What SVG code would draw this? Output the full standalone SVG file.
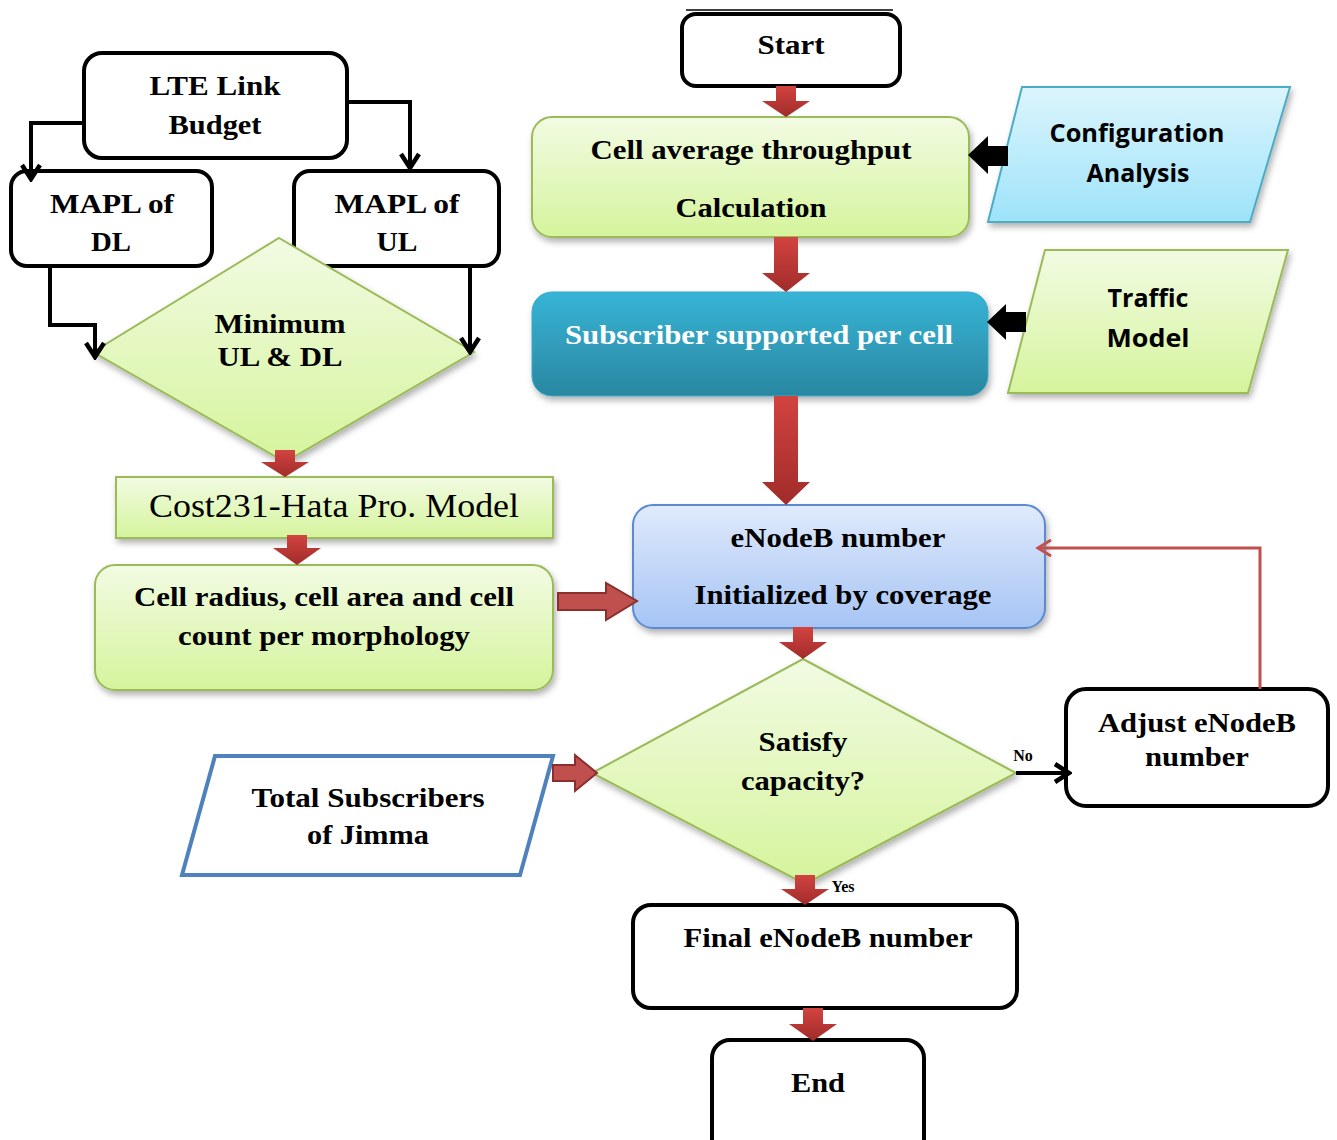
<svg xmlns="http://www.w3.org/2000/svg" width="1337" height="1140" viewBox="0 0 1337 1140">
  <defs>
    <linearGradient id="gGreen" x1="0" y1="0" x2="0" y2="1">
      <stop offset="0" stop-color="#f2fbe3"/>
      <stop offset="1" stop-color="#d5f49c"/>
    </linearGradient>
    <linearGradient id="gCyan" x1="0" y1="0" x2="0" y2="1">
      <stop offset="0" stop-color="#dcf5fd"/>
      <stop offset="1" stop-color="#9ee3f9"/>
    </linearGradient>
    <linearGradient id="gTeal" x1="0" y1="0" x2="0" y2="1">
      <stop offset="0" stop-color="#37b4d6"/>
      <stop offset="1" stop-color="#2a87a1"/>
    </linearGradient>
    <linearGradient id="gBlue" x1="0" y1="0" x2="0" y2="1">
      <stop offset="0" stop-color="#dfeafc"/>
      <stop offset="1" stop-color="#a6c4f4"/>
    </linearGradient>
    <linearGradient id="gRed" x1="0" y1="0" x2="0" y2="1">
      <stop offset="0" stop-color="#d24340"/>
      <stop offset="1" stop-color="#a02c2a"/>
    </linearGradient>
    <filter id="shadow" x="-10%" y="-10%" width="120%" height="130%">
      <feDropShadow dx="2" dy="4" stdDeviation="3" flood-color="#000" flood-opacity="0.3"/>
    </filter>
    <marker id="chev" viewBox="0 0 22 22" refX="19" refY="11" markerWidth="22" markerHeight="22" markerUnits="userSpaceOnUse" orient="auto">
      <path d="M5,2 L19,11 L5,20" fill="none" stroke="#000" stroke-width="4.5"/>
    </marker>
    <marker id="chevRed" viewBox="0 0 20 20" refX="17" refY="10" markerWidth="20" markerHeight="20" markerUnits="userSpaceOnUse" orient="auto">
      <path d="M4,2 L17,10 L4,18" fill="none" stroke="#c0504d" stroke-width="3"/>
    </marker>
    <style>
      .t { font-family: "Liberation Serif", "Times New Roman", serif; font-weight: bold; font-size: 28px; fill: #000; text-anchor: middle; }
      .s { font-family: "Open Sans", "Liberation Sans", sans-serif; font-weight: bold; font-size: 25px; fill: #000; text-anchor: middle; }
      .blk { fill: #fff; stroke: #000; stroke-width: 4; }
      .grn { fill: url(#gGreen); stroke: #9bbb59; stroke-width: 2; }
      .red { fill: url(#gRed); }
      .redo { fill: #c0504d; stroke: #8b2f2d; stroke-width: 2; }
      .wire { fill: none; stroke: #000; stroke-width: 4; }
    </style>
  </defs>

  <rect width="1337" height="1140" fill="#fff"/>
  <line x1="686" y1="10" x2="893" y2="10" stroke="#000" stroke-width="1.5"/>

  <!-- nodes -->
  <g id="lte-link-budget">
    <rect class="blk" x="84" y="53" width="263" height="105" rx="18"/>
    <text class="t" x="215" y="95" textLength="131" lengthAdjust="spacingAndGlyphs">LTE Link</text>
    <text class="t" x="215" y="134" textLength="93" lengthAdjust="spacingAndGlyphs">Budget</text>
  </g>
  <g id="mapl-dl">
    <rect class="blk" x="11" y="171" width="201" height="95" rx="16"/>
    <text class="t" x="112" y="213" textLength="124" lengthAdjust="spacingAndGlyphs">MAPL of</text>
    <text class="t" x="111" y="251" textLength="40" lengthAdjust="spacingAndGlyphs">DL</text>
  </g>
  <g id="mapl-ul">
    <rect class="blk" x="294" y="171" width="205" height="95" rx="16"/>
    <text class="t" x="397" y="213" textLength="125" lengthAdjust="spacingAndGlyphs">MAPL of</text>
    <text class="t" x="397" y="251" textLength="41" lengthAdjust="spacingAndGlyphs">UL</text>
  </g>
  <g id="minimum">
    <polygon class="grn" filter="url(#shadow)" points="279,238 474,352 285,462 93,352"/>
    <text class="t" x="280" y="333" textLength="131" lengthAdjust="spacingAndGlyphs">Minimum</text>
    <text class="t" x="280" y="366" textLength="125" lengthAdjust="spacingAndGlyphs">UL &amp; DL</text>
  </g>
  <g id="cost231">
    <rect class="grn" filter="url(#shadow)" x="116" y="477" width="437" height="61"/>
    <text x="334" y="517" font-family="Liberation Serif, serif" font-size="33" text-anchor="middle" fill="#000" textLength="370" lengthAdjust="spacingAndGlyphs">Cost231-Hata Pro. Model</text>
  </g>
  <g id="cell-radius">
    <rect class="grn" filter="url(#shadow)" x="95" y="565" width="458" height="125" rx="20"/>
    <text class="t" x="324" y="606" textLength="380" lengthAdjust="spacingAndGlyphs">Cell radius, cell area and cell</text>
    <text class="t" x="324" y="645" textLength="292" lengthAdjust="spacingAndGlyphs">count per morphology</text>
  </g>
  <g id="start">
    <rect class="blk" x="682" y="14" width="218" height="72" rx="14"/>
    <text class="t" x="791" y="54" textLength="67" lengthAdjust="spacingAndGlyphs">Start</text>
  </g>
  <g id="cell-throughput">
    <rect class="grn" filter="url(#shadow)" x="532" y="117" width="437" height="120" rx="20"/>
    <text class="t" x="751" y="159" textLength="321" lengthAdjust="spacingAndGlyphs">Cell average throughput</text>
    <text class="t" x="751" y="217" textLength="151" lengthAdjust="spacingAndGlyphs">Calculation</text>
  </g>
  <g id="configuration">
    <polygon fill="url(#gCyan)" stroke="#4bacc6" stroke-width="2" filter="url(#shadow)" points="1022,87 1290,87 1250,222 988,222"/>
    <text class="s" x="1137" y="142" textLength="175" lengthAdjust="spacingAndGlyphs">Configuration</text>
    <text class="s" x="1138" y="182" textLength="103" lengthAdjust="spacingAndGlyphs">Analysis</text>
  </g>
  <g id="subscriber">
    <rect fill="url(#gTeal)" stroke="#3aa9c8" stroke-width="1" filter="url(#shadow)" x="532" y="292" width="456" height="104" rx="20"/>
    <text class="t" x="759" y="344" style="fill:#fff" textLength="388" lengthAdjust="spacingAndGlyphs">Subscriber supported per cell</text>
  </g>
  <g id="traffic">
    <polygon class="grn" filter="url(#shadow)" points="1045,250 1288,250 1248,393 1008,393"/>
    <text class="s" x="1148" y="307" textLength="81" lengthAdjust="spacingAndGlyphs">Traffic</text>
    <text class="s" x="1148" y="347" textLength="83" lengthAdjust="spacingAndGlyphs">Model</text>
  </g>
  <g id="enodeb">
    <rect fill="url(#gBlue)" stroke="#5b8ad0" stroke-width="2" filter="url(#shadow)" x="633" y="505" width="412" height="123" rx="20"/>
    <text class="t" x="838" y="547" textLength="215" lengthAdjust="spacingAndGlyphs">eNodeB number</text>
    <text class="t" x="843" y="604" textLength="297" lengthAdjust="spacingAndGlyphs">Initialized by coverage</text>
  </g>
  <g id="satisfy">
    <polygon class="grn" filter="url(#shadow)" points="803,659 1016,773 805,884 592,773"/>
    <text class="t" x="803" y="751" textLength="89" lengthAdjust="spacingAndGlyphs">Satisfy</text>
    <text class="t" x="803" y="790" textLength="124" lengthAdjust="spacingAndGlyphs">capacity?</text>
  </g>
  <g id="adjust">
    <rect class="blk" x="1066" y="689" width="262" height="117" rx="20"/>
    <text class="t" x="1197" y="732" textLength="198" lengthAdjust="spacingAndGlyphs">Adjust eNodeB</text>
    <text class="t" x="1197" y="766" textLength="104" lengthAdjust="spacingAndGlyphs">number</text>
  </g>
  <g id="total-subscribers">
    <polygon fill="#fff" stroke="#4f81bd" stroke-width="4" points="215,756 553,756 520,875 182,875"/>
    <text class="t" x="368" y="807" textLength="233" lengthAdjust="spacingAndGlyphs">Total Subscribers</text>
    <text class="t" x="368" y="844" textLength="122" lengthAdjust="spacingAndGlyphs">of Jimma</text>
  </g>
  <g id="final">
    <rect class="blk" x="633" y="905" width="384" height="103" rx="18"/>
    <text class="t" x="828" y="947" textLength="289" lengthAdjust="spacingAndGlyphs">Final eNodeB number</text>
  </g>
  <g id="end">
    <rect class="blk" x="712" y="1040" width="212" height="120" rx="18"/>
    <text class="t" x="818" y="1092" textLength="54" lengthAdjust="spacingAndGlyphs">End</text>
  </g>

  <!-- connectors -->
  <g id="connectors">
    <path class="wire" d="M84,123 H31 V179" marker-end="url(#chev)"/>
    <path class="wire" d="M347,102 H410 V168" marker-end="url(#chev)"/>
    <path class="wire" d="M50,266 V325 H95 V357" marker-end="url(#chev)"/>
    <path class="wire" d="M470,266 V352" marker-end="url(#chev)"/>
    <path class="wire" d="M1016,773 H1069" stroke-width="5" marker-end="url(#chev)"/>
    <path d="M1260,689 V548 H1038" fill="none" stroke="#c0504d" stroke-width="3" marker-end="url(#chevRed)"/>

    <!-- red block arrows -->
    <path class="red" d="M776,86 h20 v15 h14 l-24,16 l-24,-16 h14 z"/>
    <path class="red" d="M774,237 h24 v36 h12 l-24,19 l-24,-19 h12 z"/>
    <path class="red" d="M774,396 h24 v86 h12 l-24,23 l-24,-23 h12 z"/>
    <path class="red" d="M275,450 h20 v12 h14 l-24,15 l-24,-15 h14 z"/>
    <path class="red" d="M287,535 h20 v13 h14 l-24,17 l-24,-17 h14 z"/>
    <path class="red" d="M793,627 h20 v15 h14 l-24,17 l-24,-17 h14 z"/>
    <path class="red" d="M795,875 h20 v14 h14 l-24,16 l-24,-16 h14 z"/>
    <path class="red" d="M803,1008 h20 v16 h14 l-24,17 l-24,-17 h14 z"/>
    <path class="redo" d="M558,593 h48 v-10 l31,18 l-31,19 v-10 h-48 z"/>
    <path class="redo" d="M553,765 h22 v-10 l22,18 l-22,18 v-10 h-22 z"/>

    <!-- black block arrows -->
    <path d="M1008,146 v20 h-20 v8 l-20,-19 l20,-19 v10 z" fill="#000"/>
    <path d="M1026,312 v20 h-20 v8 l-19,-18 l19,-18 v8 z" fill="#000"/>

    <text x="1023" y="761" font-family="Liberation Serif, serif" font-weight="bold" font-size="16" text-anchor="middle">No</text>
    <text x="843" y="892" font-family="Liberation Serif, serif" font-weight="bold" font-size="16" text-anchor="middle">Yes</text>
  </g>
</svg>
